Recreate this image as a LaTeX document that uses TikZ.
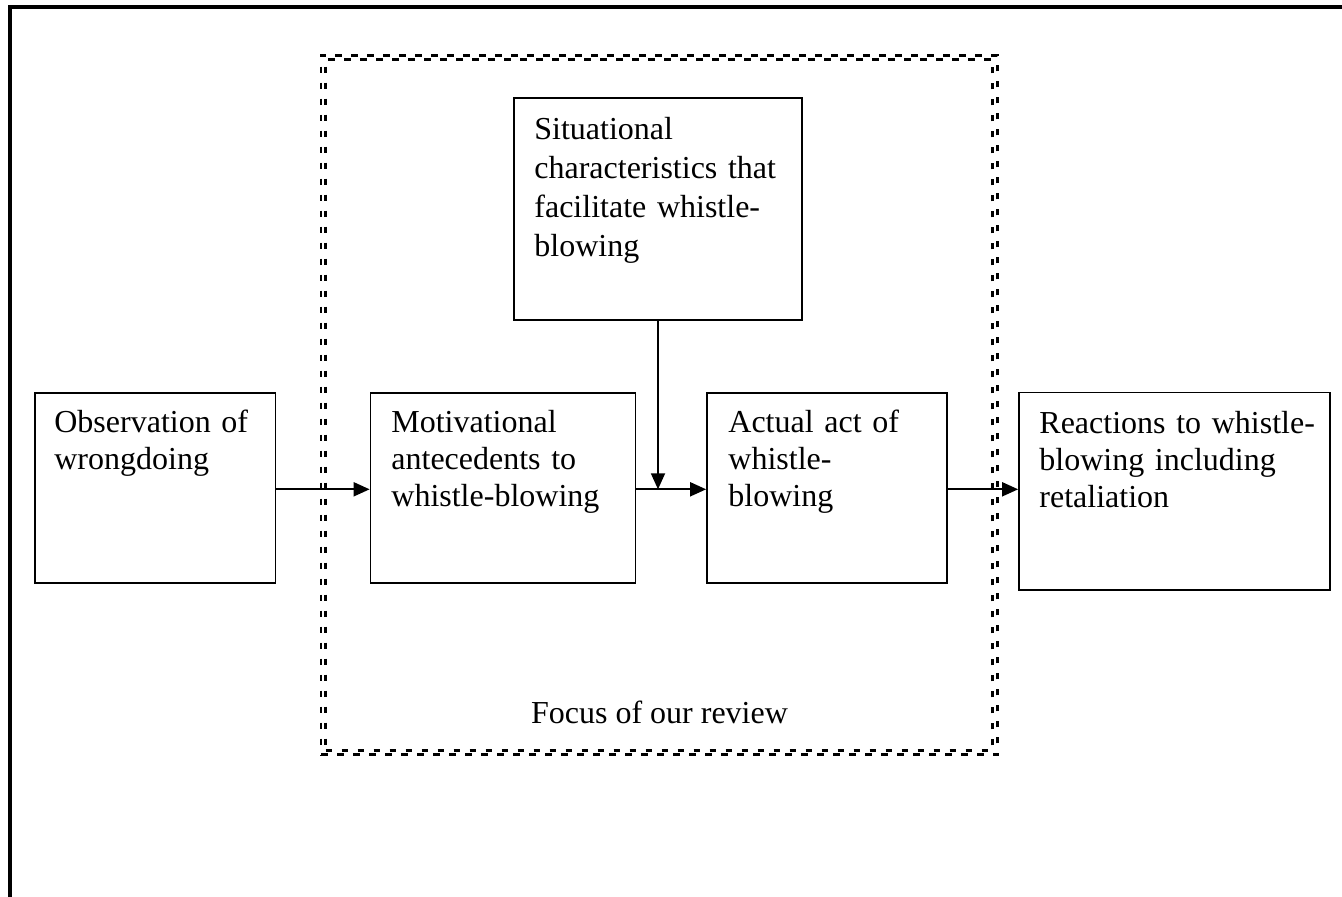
\documentclass[tikz,border=0pt]{standalone}
\usepackage{fontspec}
\setmainfont{Liberation Serif}
\usetikzlibrary{arrows.meta,calc}
\begin{document}
\begin{tikzpicture}[x=0.75pt,y=-0.75pt,
  box/.style={draw, line width=1.3pt, inner sep=0pt},
  txt/.style={anchor=base west, align=left, inner sep=0pt, text width=250pt, font=\fontsize{24pt}{27.75pt}\selectfont},
  arr/.style={line width=1.4pt, -{Triangle[length=12pt,width=10.5pt]}},
  dbl/.style={draw, line width=2pt, dash pattern=on 5pt off 7pt, inner sep=0pt}]
\clip (0,0) rectangle (1342,896);
\fill[white] (0,0) rectangle (1342,896);
% outer frame (open at right and bottom)
\draw[line width=3pt] (9.5,905) -- (9.5,7) -- (1350,7);
% focus frame (double dashed)
\node[dbl, minimum width=507.5pt, minimum height=524.55pt] (focusout) at (659.35,405) {};
\node[dbl, minimum width=500.25pt, minimum height=518.1pt] (focusin) at (659.2,404.9) {};
% boxes
\node[box, minimum width=180.4pt, minimum height=142.7pt] (obs) at (155.25,487.85) {};
\node[box, minimum width=198.75pt, minimum height=142.7pt] (mot) at (503,487.85) {};
\node[box, minimum width=180pt, minimum height=142.7pt] (act) at (827,487.85) {};
\node[box, minimum width=233.25pt, minimum height=148.1pt] (reac) at (1174.5,491.25) {};
\node[box, minimum width=216pt, minimum height=166.5pt] (sit) at (658,209) {};
% texts
\node[txt] (obst) at ($(obs.north west)+(20,40.5)$) {Observation of\\wrongdoing};
\node[txt] (mott) at ($(mot.north west)+(21.5,40.5)$) {Motivational\\antecedents to\\whistle-blowing};
\node[txt] (actt) at ($(act.north west)+(22,40.5)$) {Actual act of\\whistle-\\blowing};
\node[txt] (react) at ($(reac.north west)+(21,42)$) {Reactions to whistle-\\blowing including\\retaliation};
\node[txt, font=\fontsize{24pt}{29.25pt}\selectfont] (sitt) at ($(sit.north west)+(21,42)$) {Situational\\characteristics that\\facilitate whistle-\\blowing};
\node[anchor=base, inner sep=0pt, font=\fontsize{24pt}{27.75pt}\selectfont] (focus) at (659.5,723) {Focus of our review};
% arrows
\coordinate (ay) at (0,489.3);
\draw[arr] (obs.east |- ay) -- (mot.west |- ay);
\draw[arr] (mot.east |- ay) -- (act.west |- ay);
\draw[arr] (act.east |- ay) -- (reac.west |- ay);
\draw[arr] (sit.south) -- (sit.south |- ay);
\end{tikzpicture}
\end{document}
